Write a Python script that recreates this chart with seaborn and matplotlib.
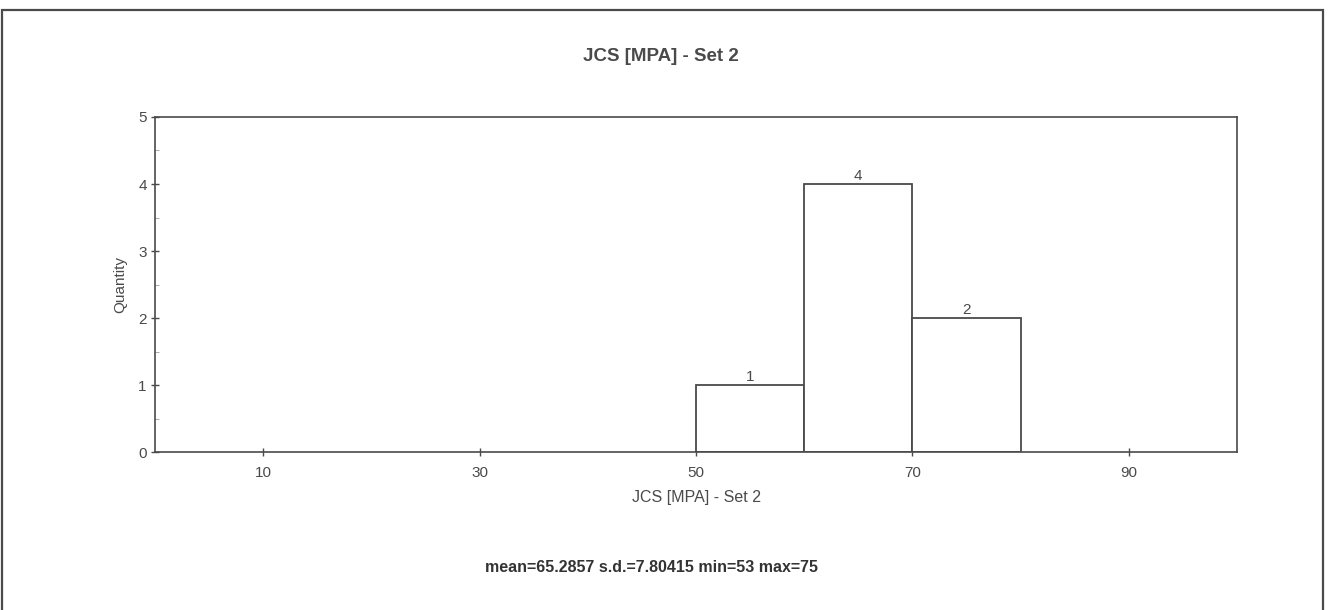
import numpy as np
import pandas as pd
import matplotlib
matplotlib.use('Agg')
import matplotlib.pyplot as plt
from matplotlib.patches import Rectangle
from matplotlib.ticker import MultipleLocator
import seaborn as sns

# histogram data
bin_edges = [50, 60, 70, 80]
counts = [1, 4, 2]
xticks = [10, 30, 50, 70, 90]
title = 'JCS [MPA] - Set 2'
stats = 'mean=65.2857 s.d.=7.80415 min=53 max=75'

sns.set_style('white')
plt.rcParams['font.family'] = ['Liberation Sans', 'DejaVu Sans']
grey = '#4a4a4a'

centers = [(a + b) / 2 for a, b in zip(bin_edges[:-1], bin_edges[1:])]
df = pd.DataFrame({'JCS': centers, 'n': counts})

fig = plt.figure(figsize=(13.32, 6.10), dpi=100)
ax = fig.add_axes([0.1164, 0.259, 0.8123, 0.5492])

sns.histplot(data=df, x='JCS', weights='n', bins=bin_edges, ax=ax,
             color='white', edgecolor=grey, linewidth=1.3, alpha=1)
ax.bar_label(ax.containers[0], labels=[str(c) for c in counts],
             fontsize=11, color=grey, padding=1)

ax.set_xlim(0, 100)
ax.set_ylim(0, 5)
ax.set_xticks(xticks)
ax.set_yticks(range(6))
ax.yaxis.set_minor_locator(MultipleLocator(0.5))
ax.tick_params(axis='y', which='major', direction='inout', length=6, width=1,
               color=grey, labelsize=11, labelcolor=grey, left=True, pad=3)
ax.tick_params(axis='y', which='minor', direction='in', length=3, color='#999999', left=True)
ax.tick_params(axis='x', which='major', direction='inout', length=6, width=1,
               color=grey, labelsize=11, labelcolor=grey, bottom=True, pad=7)
for s in ax.spines.values():
    s.set_color(grey)
    s.set_linewidth(1.2)

ax.set_xlabel(title, fontsize=11.5, color=grey, labelpad=7)
ax.set_ylabel('Quantity', fontsize=11, color=grey, labelpad=8)
fig.text(0.496, 0.907, title, ha='center', va='center', fontsize=13.5,
         fontweight='bold', color=grey)
fig.text(0.489, 0.069, stats, ha='center', va='center', fontsize=11.5,
         fontweight='bold', color='#333333')

# outer frame
fig.patches.append(Rectangle((0.0015, -0.02), 0.9917, 1.0036, transform=fig.transFigure,
                             fill=False, edgecolor=grey, linewidth=1.6))

fig.savefig('out.png', dpi=100)
